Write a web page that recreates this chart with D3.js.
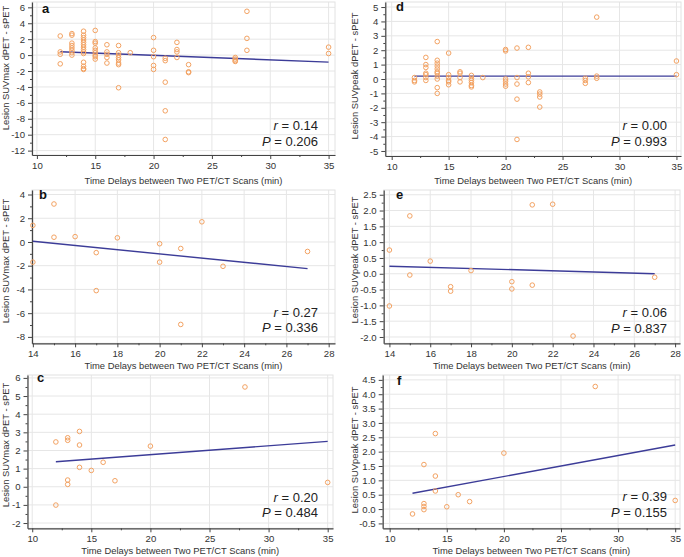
<!DOCTYPE html>
<html><head><meta charset="utf-8">
<script src="https://cdn.jsdelivr.net/npm/d3@7"></script>
<style>
body{margin:0;background:#fff}
svg{display:block}
text{font-family:"Liberation Sans",Arial,sans-serif}
</style>
</head><body>
<svg id="chart" width="684" height="557"></svg>
<script>
// ---------------- DATA ----------------
// All lesions (panels a, d)
const delaysAll = [12,13,14,15,16,17,18,20,21,22,23,27,28,35];
const suvmaxAll = [
  [2.4,0.4,0.1,-1.1],
  [2.7,2.5,1.5,1.2,0.9,0.6,0.3,0.0],
  [3.0,2.5,2.2,1.9,1.6,1.3,1.0,0.7,0.4,0.2,-0.9,-1.4,-1.7,-1.8],
  [3.1,1.7,1.5,0.9,0.6,0.3,0.0,-0.2,-0.5],
  [1.3,0.4,0.1,-0.3,-1.0],
  [1.2,0.3,0.0,-0.3,-0.6,-1.0,-1.2,-4.1],
  [0.3],
  [2.2,0.6,-0.2,-1.3,-1.8],
  [-0.4,-0.7,-3.4,-7.0,-10.6],
  [1.6,0.7,0.4,-0.3],
  [-1.2,-2.1,-2.2],
  [-0.3,-0.5,-0.7,-0.8],
  [5.5,2.1,0.6],
  [1.0,0.2]
];
const suvpeakAll = [
  [0.1,-0.1,-0.2],
  [1.5,1.0,0.8,0.4,0.3,0.1,-0.1],
  [2.6,1.3,1.1,0.9,0.7,0.5,0.4,0.2,0.0,-0.6,-1.0],
  [1.8,0.3,0.1,-0.1,-0.2,-0.4],
  [0.5,0.4,0.1,-0.2],
  [0.25,0.05,-0.1,-0.25,-0.45,-0.55],
  [0.1],
  [2.05,1.95,0.0,-0.15,-0.35,-0.5],
  [2.15,0.1,-0.35,-1.4,-4.2],
  [2.2,0.4,0.15,-0.25],
  [-0.9,-1.05,-1.25,-1.95],
  [0.05,-0.1,-0.3],
  [4.3,0.2,0.05],
  [1.25,0.3]
];
// Subgroup 1 (panels b, e)
const delaysB = [14,15,16,17,18,20,21,22,23,27];
const suvmaxB = [[1.4,-1.7],[3.2,0.4],[0.45],[-0.9,-4.1],[0.35],[-0.15,-1.7],[-0.55,-6.95],[1.7],[-2.05],[-0.8]];
const suvpeakE = [[0.75,-1.02],[1.83,-0.04],[0.4],[-0.41,-0.55],[0.1],[-0.25,-0.48],[2.18,-0.36],[2.2],[-1.97],[-0.11]];
// Subgroup 2 (panels c, f)
const delaysC = [12,13,14,15,16,17,20,28,35];
const suvmaxC = [[2.47,-1.01],[2.7,2.56,0.37,0.13],[3.05,2.3,1.07],[0.9],[1.35],[0.33],[2.24],[5.5],[0.24]];
const suvpeakF = [[-0.17],[1.55,0.19,0.09,-0.02],[2.63,1.15,0.63],[0.08],[0.5],[0.26],[1.95],[4.27],[0.3]];

// Regression lines (endpoints)
const fitA = {x:[12,35], y:[0.42,-0.88]};
const fitB = {x:[14,27], y:[0.06,-2.25]};
const fitC = {x:[12,35], y:[1.38,2.5]};
const fitD = {x:[12,35], y:[0.2,0.2]};
const fitE = {x:[14,27], y:[0.24,0.0]};
const fitF = {x:[12,35], y:[0.55,2.23]};

// Statistics
const statR = {a:"0.14", b:"0.27", c:"0.20", d:"0.00", e:"0.06", f:"0.39"};
const statP = {a:"0.206", b:"0.336", c:"0.484", d:"0.993", e:"0.837", f:"0.155"};

// Tick values
const xTicksWide = [10,15,20,25,30,35];
const xTicksNarrow = [14,16,18,20,22,24,26,28];
const yTicksA = [-12,-10,-8,-6,-4,-2,0,2,4,6];
const yTicksB = [-8,-6,-4,-2,0,2,4];
const yTicksC = [-2,-1,0,1,2,3,4,5,6];
const yTicksD = [-5,-4,-3,-2,-1,0,1,2,3,4,5];
const yTicksE = [-2.0,-1.5,-1.0,-0.5,0.0,0.5,1.0,1.5,2.0,2.5];
const yTicksF = [-0.5,0.0,0.5,1.0,1.5,2.0,2.5,3.0,3.5,4.0,4.5];

const xTitle = "Time Delays between Two PET/CT Scans (min)";
const yTitleMax = "Lesion SUVmax dPET - sPET";
const yTitlePeak = "Lesion SUVpeak dPET - sPET";

// ---------------- DRAW ----------------
const svg = d3.select("#chart");
const C_PT = "#f3a262", C_LINE = "#3c3c98", C_AX = "#444", C_TXT = "#333", C_GRID = "#e6e6e6";

function flatten(delays, groups){
  const out = [];
  delays.forEach((d,i)=>groups[i].forEach(v=>out.push([d,v])));
  return out;
}
const fmtInt = d => String(d);
const fmt1 = d => d.toFixed(1);

function panel(cfg){
  const g = svg.append("g");
  const x = d3.scaleLinear().domain(cfg.xDom).range([cfg.l, cfg.r]);
  const y = d3.scaleLinear().domain(cfg.yDom).range([cfg.b, cfg.t]);

  // grid
  g.append("g").selectAll("line").data(cfg.xTicks).join("line")
    .attr("x1",d=>x(d)).attr("x2",d=>x(d)).attr("y1",cfg.t).attr("y2",cfg.b)
    .attr("stroke",C_GRID).attr("stroke-width",1);
  g.append("g").selectAll("line").data(cfg.yTicks).join("line")
    .attr("y1",d=>y(d)).attr("y2",d=>y(d)).attr("x1",cfg.l).attr("x2",cfg.r)
    .attr("stroke",C_GRID).attr("stroke-width",1);
  g.append("rect").attr("x",cfg.l).attr("y",cfg.t).attr("width",cfg.r-cfg.l).attr("height",cfg.b-cfg.t)
    .attr("fill","none").attr("stroke","#e2e2e2");

  // minor ticks
  const yMinor = [];
  for(let i=0;i<cfg.yTicks.length-1;i++) yMinor.push((cfg.yTicks[i]+cfg.yTicks[i+1])/2);
  const xMinor = [];
  for(let i=0;i<cfg.xTicks.length-1;i++) xMinor.push((cfg.xTicks[i]+cfg.xTicks[i+1])/2);

  const xa = g.append("g").attr("transform",`translate(0,${cfg.b})`)
    .call(d3.axisBottom(x).tickValues(cfg.xTicks).tickSize(4).tickSizeOuter(0).tickPadding(3).tickFormat(fmtInt));
  g.append("g").attr("transform",`translate(0,${cfg.b})`)
    .call(d3.axisBottom(x).tickValues(xMinor).tickSize(2).tickSizeOuter(0).tickFormat(""))
    .select(".domain").remove();
  const ya = g.append("g").attr("transform",`translate(${cfg.l},0)`)
    .call(d3.axisLeft(y).tickValues(cfg.yTicks).tickSize(4).tickSizeOuter(0).tickPadding(3).tickFormat(cfg.yFmt));
  g.append("g").attr("transform",`translate(${cfg.l},0)`)
    .call(d3.axisLeft(y).tickValues(yMinor).tickSize(2).tickSizeOuter(0).tickFormat(""))
    .select(".domain").remove();
  g.selectAll(".domain").attr("stroke",C_AX).attr("stroke-width",1.2);
  g.selectAll(".tick line").attr("stroke",C_AX);
  g.selectAll(".tick text").attr("fill",C_TXT).style("font-size","9.6px").style("font-family",'"Liberation Sans",Arial,sans-serif');

  // titles
  g.append("text").attr("x",(cfg.l+cfg.r)/2).attr("y",cfg.xTitleY).attr("text-anchor","middle")
    .attr("fill",C_TXT).style("font-size","9.4px").text(xTitle);
  g.append("text").attr("transform",`translate(${cfg.yTitleX},${cfg.yTitleC}) rotate(-90)`)
    .attr("text-anchor","middle").attr("fill",C_TXT).style("font-size","9.4px").text(cfg.yTitle);

  // fit line
  g.append("line").attr("x1",x(cfg.fit.x[0])).attr("y1",y(cfg.fit.y[0]))
    .attr("x2",x(cfg.fit.x[1])).attr("y2",y(cfg.fit.y[1]))
    .attr("stroke",C_LINE).attr("stroke-width",1.4);

  // points
  g.append("g").selectAll("circle").data(cfg.pts).join("circle")
    .attr("cx",d=>x(d[0])).attr("cy",d=>y(d[1])).attr("r",2.3)
    .attr("fill","none").attr("stroke",C_PT).attr("stroke-width",1);

  // panel letter
  g.append("text").attr("x",cfg.labX).attr("y",cfg.labY).attr("fill","#111")
    .style("font-size","13px").style("font-weight","bold").text(cfg.label);

  // stats
  const tr = g.append("text").attr("x",cfg.statX).attr("y",cfg.rY).attr("text-anchor","end")
    .attr("fill","#222").style("font-size","13px");
  tr.append("tspan").style("font-style","italic").text("r");
  tr.append("tspan").text(" = " + statR[cfg.label]);
  const tp = g.append("text").attr("x",cfg.statX).attr("y",cfg.pY).attr("text-anchor","end")
    .attr("fill","#222").style("font-size","13px");
  tp.append("tspan").style("font-style","italic").text("P");
  tp.append("tspan").text(" = " + statP[cfg.label]);
}

panel({label:"a", l:32, r:335, t:2, b:155, xDom:[9.58,35.55], yDom:[-12.55,6.67],
  xTicks:xTicksWide, yTicks:yTicksA, yFmt:fmtInt, pts:flatten(delaysAll,suvmaxAll), fit:fitA,
  xTitleY:183.5, yTitle:yTitleMax, yTitleX:8.5, yTitleC:68, labX:42, labY:13,
  statX:318, rY:130, pY:145.7});
panel({label:"b", l:32, r:335, t:190, b:343.3, xDom:[13.96,28.3], yDom:[-8.54,4.38],
  xTicks:xTicksNarrow, yTicks:yTicksB, yFmt:fmtInt, pts:flatten(delaysB,suvmaxB), fit:fitB,
  xTitleY:368.5, yTitle:yTitleMax, yTitleX:8.5, yTitleC:261, labX:39, labY:199,
  statX:318, rY:316.7, pY:332.3});
panel({label:"c", l:27.5, r:333, t:375, b:528.3, xDom:[9.6,35.45], yDom:[-2.29,6.16],
  xTicks:xTicksWide, yTicks:yTicksC, yFmt:fmtInt, pts:flatten(delaysC,suvmaxC), fit:fitC,
  xTitleY:553.5, yTitle:yTitleMax, yTitleX:8.5, yTitleC:445, labX:37, labY:382,
  statX:318, rY:501.7, pY:516.7});
panel({label:"d", l:385.3, r:681, t:2, b:156, xDom:[9.44,35.4], yDom:[-5.35,5.35],
  xTicks:xTicksWide, yTicks:yTicksD, yFmt:fmtInt, pts:flatten(delaysAll,suvpeakAll), fit:fitD,
  xTitleY:183.5, yTitle:yTitlePeak, yTitleX:358, yTitleC:76, labX:396, labY:11,
  statX:667, rY:130, pY:145.7});
panel({label:"e", l:383.7, r:680, t:190, b:343.3, xDom:[13.72,28.24], yDom:[-2.2,2.65],
  xTicks:xTicksNarrow, yTicks:yTicksE, yFmt:fmt1, pts:flatten(delaysB,suvpeakE), fit:fitE,
  xTitleY:368.5, yTitle:yTitlePeak, yTitleX:358, yTitleC:260, labX:396, labY:198.5,
  statX:667, rY:316.7, pY:332.7});
panel({label:"f", l:382.7, r:680, t:375, b:528.3, xDom:[9.39,35.42], yDom:[-0.67,4.67],
  xTicks:xTicksWide, yTicks:yTicksF, yFmt:fmt1, pts:flatten(delaysC,suvpeakF), fit:fitF,
  xTitleY:553.5, yTitle:yTitlePeak, yTitleX:358, yTitleC:450, labX:397, labY:384.5,
  statX:667, rY:501, pY:516.7});
</script>
</body></html>
